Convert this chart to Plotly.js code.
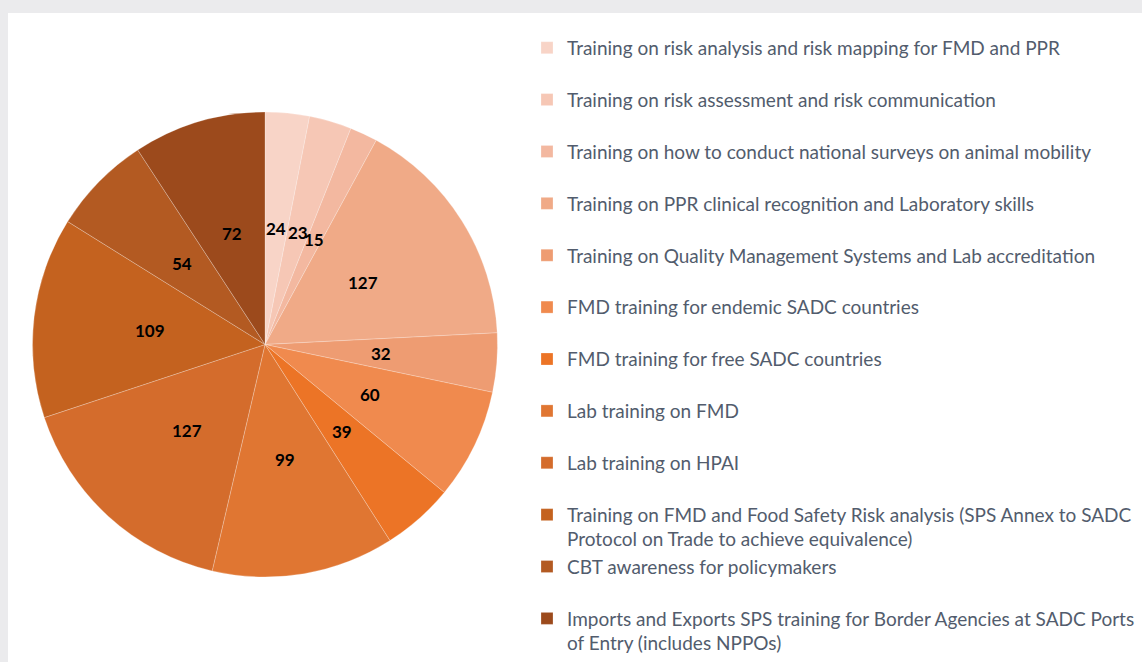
<!DOCTYPE html>
<html>
<head>
<meta charset="utf-8">
<script src="https://cdn.plot.ly/plotly-3.0.1.min.js"></script>
<style>
  html, body { margin: 0; padding: 0; background: #ebebed; width: 1142px; height: 662px; overflow: hidden; }
  #chart { position: absolute; left: 8px; top: 13px; width: 1134px; height: 649px; background: #ffffff; }
</style>
</head>
<body>
<div id="chart"></div>
<script>
const categories = [
  "Training on risk analysis and risk mapping for FMD and PPR",
  "Training on risk assessment and risk communication",
  "Training on how to conduct national surveys on animal mobility",
  "Training on PPR clinical recognition and Laboratory skills",
  "Training on Quality Management Systems and Lab accreditation",
  "FMD training for endemic SADC countries",
  "FMD training for free SADC countries",
  "Lab training on FMD",
  "Lab training on HPAI",
  "Training on FMD and Food Safety Risk analysis (SPS Annex to SADC<br>Protocol on Trade to achieve equivalence)",
  "CBT awareness for policymakers",
  "Imports and Exports SPS training for Border Agencies at SADC Ports<br>of Entry (includes NPPOs)"
];
const values = [24, 23, 15, 127, 32, 60, 39, 99, 127, 109, 54, 72];
const colors = ["#f8d4c7", "#f6c7b5", "#f3b8a0", "#f0aa87", "#ee9c72", "#f08a4e", "#ec7426", "#e07632", "#d46c2c", "#c4621f", "#b35a22", "#9c4a1c"];

// legend labels: single-line entries get a blank second line so every entry has equal height
const legendLabels = categories.map(c => {
  const lines = c.split("<br>");
  const body = lines.map(l => "<span style='font-size:19px'>" + l + "</span>").join("<br>");
  return lines.length === 1 ? body + "<br> " : body;
});

const W = 1134, H = 649;
const dom = { x: [24 / W, 490 / W], y: [85 / H, 550 / H] };

const trace = {
  type: "pie",
  values: values,
  labels: legendLabels,
  textinfo: "none",
  marker: { colors: colors, line: { color: "rgba(255,255,255,0.3)", width: 0.8 } },
  sort: false,
  direction: "clockwise",
  rotation: 0,
  hoverinfo: "label+value",
  domain: dom
};

// data labels on each slice bisector at half the radius (as in the source chart)
const total = values.reduce((a, b) => a + b, 0);
const cx = (dom.x[0] + dom.x[1]) / 2, cy = (dom.y[0] + dom.y[1]) / 2;
const rPx = Math.min((dom.x[1] - dom.x[0]) * W, (dom.y[1] - dom.y[0]) * H) / 2;
let cum = 0;
const annotations = values.map(v => {
  const mid = (cum + v / 2) / total * 2 * Math.PI;
  cum += v;
  return {
    xref: "paper", yref: "paper",
    x: cx + 0.5 * rPx * Math.sin(mid) / W,
    y: cy + 0.5 * rPx * Math.cos(mid) / H,
    text: String(v),
    showarrow: false,
    xanchor: "center", yanchor: "middle",
    font: { family: "Lato, 'Open Sans', sans-serif", size: 17, color: "#000000", weight: "bold" }
  };
});

const layout = {
  width: W,
  height: H,
  margin: { l: 0, r: 0, t: 0, b: 0 },
  paper_bgcolor: "#ffffff",
  showlegend: true,
  annotations: annotations,
  legend: {
    x: 519 / W,
    xanchor: "left",
    y: 1 - 34.5 / H,
    yanchor: "top",
    valign: "top",
    font: { family: "Lato, 'Open Sans', sans-serif", size: 18.8, color: "#525c6d" },
    bgcolor: "rgba(0,0,0,0)",
    traceorder: "normal"
  }
};

Plotly.newPlot("chart", [trace], layout, { displayModeBar: false, staticPlot: true });
</script>
</body>
</html>
